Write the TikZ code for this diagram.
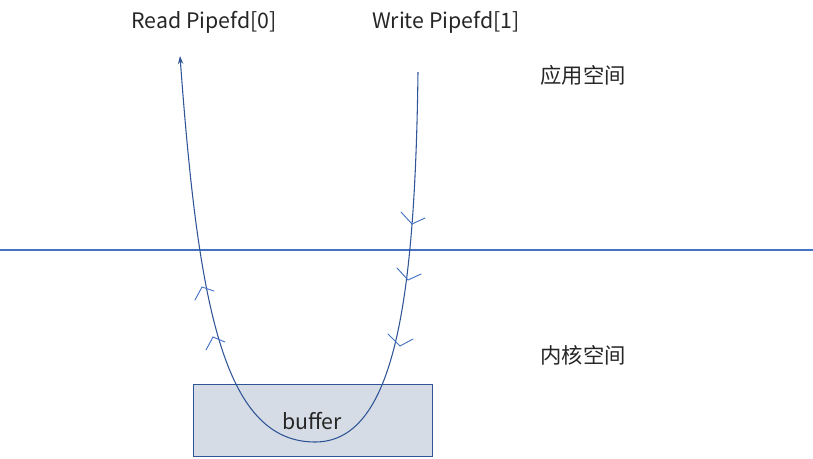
\documentclass[tikz,border=0pt]{standalone}
\usepackage{fontspec}
\setmainfont{Noto Sans CJK SC}
\usetikzlibrary{arrows.meta}
\begin{document}
\begin{tikzpicture}[x=0.75pt,y=-0.75pt,
  lbl/.style={font=\fontsize{16}{18}\selectfont,text=black!85},
  ln/.style={draw={rgb,255:red,47;green,85;blue,151}, line width=0.8pt},
  chev/.style={draw={rgb,255:red,68;green,114;blue,196}, line width=0.7pt, line cap=round}]
\useasboundingbox (0,0) rectangle (813,458);
\node[draw={rgb,255:red,47;green,85;blue,151}, fill={rgb,255:red,214;green,220;blue,229}, minimum width=239*0.75pt, minimum height=72*0.75pt, inner sep=0pt, anchor=north west] (buf) at (193,384) {};
\node[lbl] (buftext) at (312,421) {buffer};
\draw[draw={rgb,255:red,68;green,114;blue,196}, line width=0.8pt] (0,250) -- (813,250);
\coordinate (w) at (418,72);
\coordinate (bot) at (315,442);
\coordinate (r) at (180,56);
\draw[ln,-{Stealth[length=6pt,width=4pt]}] (w) .. controls (415,300) and (395,442) .. (bot) .. controls (222,442) and (198,300) .. (r);
\draw[chev] (401,212) -- (412,224) -- (425,218);
\draw[chev] (397,268) -- (408,280) -- (421,274);
\draw[chev] (388,334) -- (400,346) -- (413,339);
\draw[chev] (195,300) -- (202,287) -- (214,291);
\draw[chev] (206,350) -- (213,337) -- (225,342);
\node[lbl] (read) at (204,22) {Read Pipefd[0]};
\node[lbl] (write) at (446,22) {Write Pipefd[1]};
\node[lbl] (app) at (583,75) {应用空间};
\node[lbl] (kern) at (583,355) {内核空间};
\end{tikzpicture}
\end{document}
